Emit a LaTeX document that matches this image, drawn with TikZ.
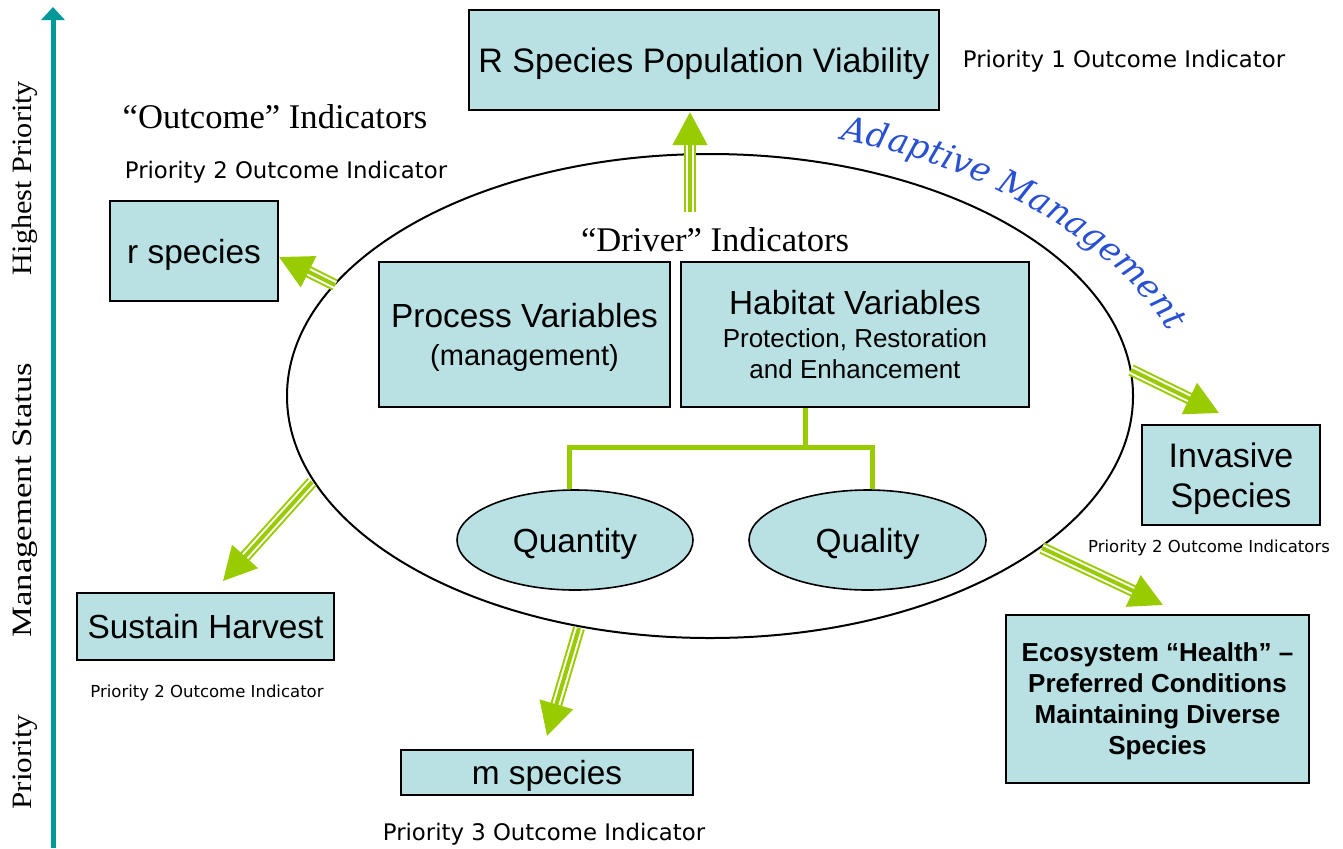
\documentclass[tikz,border=0pt]{standalone}
\usepackage{fontspec}
\setmainfont{Liberation Serif}
\setsansfont{Liberation Sans}
\newfontfamily\tah{DejaVu Sans}
\newfontfamily\adfont{DejaVu Serif}
\usetikzlibrary{shapes.geometric,arrows.meta,decorations.text}
\definecolor{boxfill}{RGB}{185,224,226}
\definecolor{gr}{RGB}{153,204,0}
\definecolor{axisteal}{RGB}{0,153,153}
\definecolor{amblue}{RGB}{40,80,210}
\begin{document}
\begin{tikzpicture}[x=0.5pt,y=-0.5pt,
 box/.style={draw=black, line width=1pt, fill=boxfill, inner sep=0pt, text depth=0pt, font=\sffamily\fontsize{16.7}{19}\selectfont, align=center},
 oval/.style={ellipse, draw=black, line width=0.8pt, fill=boxfill, inner sep=0pt, text depth=0pt, font=\sffamily\fontsize{16.7}{19}\selectfont},
 lab/.style={font=\tah\fontsize{11.4}{13}\selectfont, inner sep=0pt, yshift=-1.5pt},
 slab/.style={font=\tah\fontsize{8.25}{10}\selectfont, inner sep=0pt, yshift=-1pt},
 ser/.style={font=\rmfamily\fontsize{17.3}{20}\selectfont, inner sep=0pt},
 side/.style={font=\rmfamily\fontsize{14}{16}\selectfont, rotate=90, inner sep=0pt},
 garrow/.style={draw=gr, line width=2pt, -{Triangle[length=16.5pt,width=17pt]},
   preaction={draw=gr, -, line width=6pt, shorten >=15.5pt},
   preaction={draw=white, -, line width=4pt, shorten >=15.5pt}},
 tree/.style={draw=gr, line width=2.5pt}
]
\useasboundingbox (0,0) rectangle (1343,848);

% priority axis
\coordinate (ab) at (53,848);
\coordinate (at) at (53,7);
\draw[axisteal, line width=2.5pt, -{Triangle[length=6.5pt,width=11.5pt]}] (ab) -- (at);
\node[side] (s1) at (25,178) {\scalebox{1.08}[1]{Highest Priority}};
\node[side] (s2) at (25,500) {\scalebox{1.24}[1]{Management Status}};
\node[side] (s3) at (25,762) {\scalebox{1.11}[1]{Priority}};

% big ellipse
\node[ellipse, draw=black, line width=1pt, minimum width=423pt, minimum height=242pt, inner sep=0pt] (drv) at (710,396) {};
\node[ser] (drvt) at (715,240) {“Driver” Indicators};

% top box
\node[box, minimum width=235pt, minimum height=50pt, font=\sffamily\fontsize{17}{19}\selectfont] (R) at (704,60) {R Species Population Viability};
\node[lab] (p1) at (1124,58) {Priority 1 Outcome Indicator};

% outcome indicators
\node[ser] (oi) at (275,117) {“Outcome” Indicators};
\node[lab] (p2a) at (286,169) {Priority 2 Outcome Indicator};
\node[box, minimum width=84pt, minimum height=50pt] (rs) at (194,251) {r species};

% driver boxes
\node[box, minimum width=145.5pt, minimum height=72.5pt] (proc) at (524.5,334.5)
  {Process Variables\\{\fontsize{14.5}{19}\selectfont (management)}};
\node[box, minimum width=174pt, minimum height=72.5pt, font=\sffamily\fontsize{13}{15.5}\selectfont] (hab) at (855,334.5)
  {{\fontsize{16.7}{18}\selectfont Habitat Variables}\\[1pt]Protection, Restoration\\and Enhancement};

\node[oval, minimum width=118pt, minimum height=50pt] (qn) at (575,540) {Quantity};
\node[oval, minimum width=118.5pt, minimum height=50pt] (ql) at (867.5,540) {Quality};

\coordinate (j) at (805,447);
\coordinate (jl) at (569,447);
\coordinate (jr) at (872,447);
\draw[tree] (j |- hab.south) -- (j);
\draw[tree] (jl |- qn.north) -- (jl) -- (jr) -- (jr |- ql.north);

% right side
\node[box, minimum width=89pt, minimum height=50pt, font=\sffamily\fontsize{17}{20}\selectfont] (inv) at (1231,475) {Invasive\\Species};
\node[slab] (p2b) at (1209,546) {Priority 2 Outcome Indicators};
\node[box, minimum width=151.5pt, minimum height=84pt, font=\sffamily\bfseries\fontsize{13}{15.5}\selectfont] (eco) at (1157.5,699)
  {Ecosystem “Health” –\\Preferred Conditions\\Maintaining Diverse\\Species};

% bottom left
\node[box, minimum width=128.5pt, minimum height=33.5pt] (sh) at (205.5,626.5) {Sustain Harvest};
\node[slab] (p2c) at (207,691) {Priority 2 Outcome Indicator};
\node[box, minimum width=146pt, minimum height=22.5pt] (ms) at (547,772.5) {m species};
\node[lab] (p3) at (544,831) {Priority 3 Outcome Indicator};

% arrows
\coordinate (a1s) at (690,212); \coordinate (a1e) at (690,112);
\coordinate (a2s) at (335,285); \coordinate (a2e) at (279,257);
\coordinate (a3s) at (312,482); \coordinate (a3e) at (223,581);
\coordinate (a4s) at (579,628); \coordinate (a4e) at (547,736);
\coordinate (a5s) at (1131,370); \coordinate (a5e) at (1219,413);
\coordinate (a6s) at (1042,548); \coordinate (a6e) at (1163,605);
\draw[garrow] (a1s) -- (a1e);
\draw[garrow] (a2s) -- (a2e);
\draw[garrow] (a3s) -- (a3e);
\draw[garrow] (a4s) -- (a4e);
\draw[garrow] (a5s) -- (a5e);
\draw[garrow] (a6s) -- (a6e);

% adaptive management
\path[decorate, decoration={text along path, text align=center,
  text={|\adfont\itshape\fontsize{17}{17}\selectfont\color{amblue}|Adaptive Management}}]
  (834,138) .. controls (960,160) and (1110,230) .. (1172,338);
\end{tikzpicture}
\end{document}
